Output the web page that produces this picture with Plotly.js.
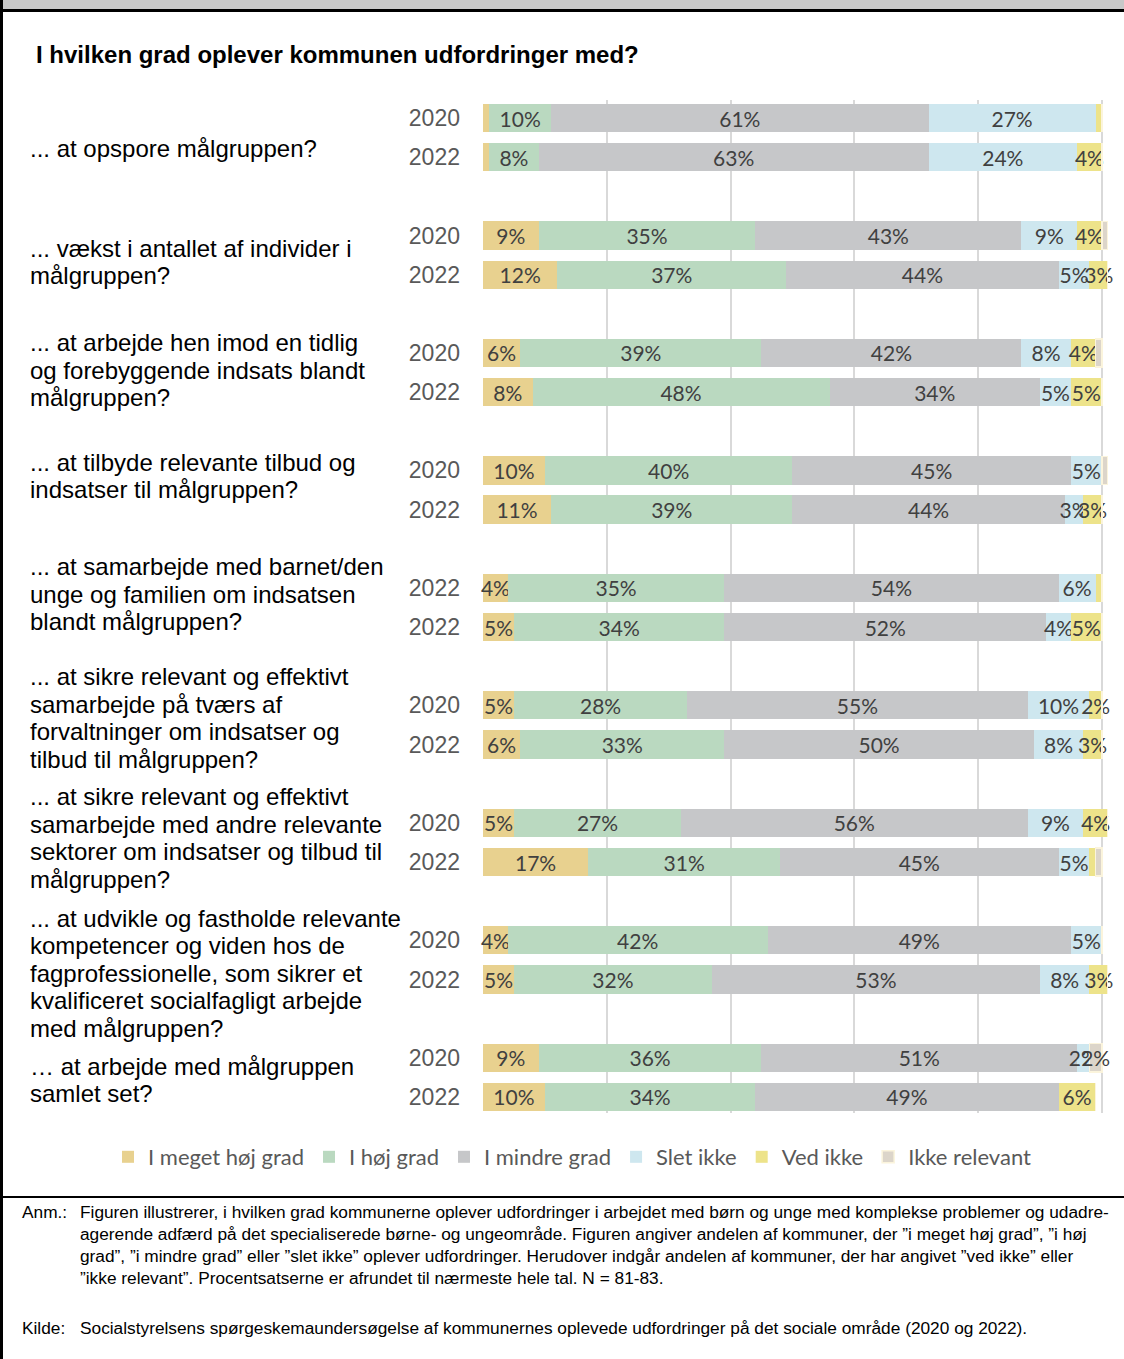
<!DOCTYPE html>
<html>
<head>
<meta charset="utf-8">
<script src="https://cdn.plot.ly/plotly-3.0.1.min.js"></script>
<style>
html,body{margin:0;padding:0;background:#fff;}
#chart{width:1124px;height:1359px;}
</style>
</head>
<body>
<div id="chart"></div>
<script>
// ---------- DATA ----------
const questions = [
  "... at opspore målgruppen?",
  "... vækst i antallet af individer i<br>målgruppen?",
  "... at arbejde hen imod en tidlig<br>og forebyggende indsats blandt<br>målgruppen?",
  "... at tilbyde relevante tilbud og<br>indsatser til målgruppen?",
  "... at samarbejde med barnet/den<br>unge og familien om indsatsen<br>blandt målgruppen?",
  "... at sikre relevant og effektivt<br>samarbejde på tværs af<br>forvaltninger om indsatser og<br>tilbud til målgruppen?",
  "... at sikre relevant og effektivt<br>samarbejde med andre relevante<br>sektorer om indsatser og tilbud til<br>målgruppen?",
  "... at udvikle og fastholde relevante<br>kompetencer og viden hos de<br>fagprofessionelle, som sikrer et<br>kvalificeret socialfagligt arbejde<br>med målgruppen?",
  "… at arbejde med målgruppen<br>samlet set?"
];
const yearLabels = ["2020","2022","2020","2022","2020","2022","2020","2022","2022","2022",
                    "2020","2022","2020","2022","2020","2022","2020","2022"];
const seriesNames = ["I meget høj grad","I høj grad","I mindre grad","Slet ikke","Ved ikke","Ikke relevant"];
const megetHoj    = [1,1, 9,12, 6,8, 10,11, 4,5, 5,6, 5,17, 4,5, 9,10];
const hoj         = [10,8, 35,37, 39,48, 40,39, 35,34, 28,33, 27,31, 42,32, 36,34];
const mindre      = [61,63, 43,44, 42,34, 45,44, 54,52, 55,50, 56,45, 49,53, 51,49];
const sletIkke    = [27,24, 9,5, 8,5, 5,3, 6,4, 10,8, 9,5, 5,8, 2,0];
const vedIkke     = [1,4, 4,3, 4,5, 0,3, 1,5, 2,3, 4,1, 0,3, 0,6];
const ikkeRelevant= [0,0, 1,0, 1,0, 1,0, 0,0, 0,0, 0,1, 0,0, 2,0];

const anmLines = [
  "Figuren illustrerer, i hvilken grad kommunerne oplever udfordringer i arbejdet med børn og unge med komplekse problemer og udadre-",
  "agerende adfærd på det specialiserede børne- og ungeområde. Figuren angiver andelen af kommuner, der ”i meget høj grad”, ”i høj",
  "grad”, ”i mindre grad” eller ”slet ikke” oplever udfordringer. Herudover indgår andelen af kommuner, der har angivet ”ved ikke” eller",
  "”ikke relevant”. Procentsatserne er afrundet til nærmeste hele tal. N = 81-83."
];
const kildeText = "Socialstyrelsens spørgeskemaundersøgelse af kommunernes oplevede udfordringer på det sociale område (2020 og 2022).";

// ---------- LAYOUT HELPERS ----------
const W = 1124, H = 1359, L = 483, R = 1108, T = 100, B = 1113;
const px = x => (x - L) / (R - L);
const py = y => (B - y) / (B - T);

const rows = [];
questions.forEach((q, g) => { rows.push(3 * g, 3 * g + 1); });

const colors = ["#E8D18F", "#BAD9C0", "#C6C7C9", "#CEE7EF", "#EDE38A", "#DCD5CA"];
const allSeries = [megetHoj, hoj, mindre, sletIkke, vedIkke, ikkeRelevant];

const labelFont = {family: "Lato, sans-serif", size: 21, color: "#404040"};
const traces = allSeries.map((vals, i) => ({
  type: "bar",
  orientation: "h",
  name: seriesNames[i],
  x: vals,
  y: rows,
  width: 0.72,
  text: vals.map(v => v >= 2 ? v + "%" : ""),
  textposition: "inside",
  insidetextanchor: "middle",
  textangle: 0,
  constraintext: "none",
  cliponaxis: false,
  textfont: labelFont,
  insidetextfont: labelFont,
  marker: {
    color: colors[i],
    line: i === 5 ? {color: "#FBF4DC", width: 1.5} : {width: 0}
  },
  hoverinfo: "skip"
}));

// question labels, one annotation per line (line pitch 27.5 px)
const qCenters = [148, 262, 370, 476, 594, 718, 838, 973, 1080];
const linePitch = 27.5;
const annotations = [];
questions.forEach((q, g) => {
  const lines = q.split("<br>");
  lines.forEach((ln, k) => {
    const yc = qCenters[g] + (k - (lines.length - 1) / 2) * linePitch;
    annotations.push({
      xref: "paper", yref: "paper",
      x: px(28), y: py(yc),
      xanchor: "left", yanchor: "middle", align: "left",
      text: ln, showarrow: false,
      font: {family: "Liberation Sans, Arial, sans-serif", size: 24, color: "#000"}
    });
  });
});

const noteFont = {family: "Liberation Sans, Arial, sans-serif", size: 17.3, color: "#000"};
annotations.push({xref: "paper", yref: "paper", x: px(20), y: py(1212), xanchor: "left", yanchor: "middle",
  text: "Anm.:", showarrow: false, font: noteFont});
anmLines.forEach((t, i) => annotations.push({xref: "paper", yref: "paper", x: px(78), y: py(1212 + 22 * i),
  xanchor: "left", yanchor: "middle", text: t, showarrow: false, font: noteFont}));
annotations.push({xref: "paper", yref: "paper", x: px(20), y: py(1328), xanchor: "left", yanchor: "middle",
  text: "Kilde:", showarrow: false, font: noteFont});
annotations.push({xref: "paper", yref: "paper", x: px(78), y: py(1328), xanchor: "left", yanchor: "middle",
  text: kildeText, showarrow: false, font: noteFont});

const shapes = [
  {type: "rect", xref: "paper", yref: "paper", x0: px(0), x1: px(W), y0: py(0), y1: py(9),
   fillcolor: "#C8C8C8", line: {width: 0}, layer: "above"},
  {type: "line", xref: "paper", yref: "paper", x0: px(0), x1: px(W), y0: py(10.5), y1: py(10.5),
   line: {color: "#000", width: 3}},
  {type: "line", xref: "paper", yref: "paper", x0: px(1.5), x1: px(1.5), y0: py(0), y1: py(H),
   line: {color: "#000", width: 3}},
  {type: "line", xref: "paper", yref: "paper", x0: px(0), x1: px(W), y0: py(1197), y1: py(1197),
   line: {color: "#000", width: 2}}
];

const layout = {
  width: W, height: H,
  margin: {l: L, r: W - R, t: T, b: H - B, pad: 0},
  paper_bgcolor: "#fff", plot_bgcolor: "#fff",
  barmode: "stack",
  bargap: 0,
  showlegend: true,
  font: {family: "Liberation Sans, Arial, sans-serif"},
  title: {
    text: "<b>I hvilken grad oplever kommunen udfordringer med?</b>",
    xref: "container", yref: "container",
    x: 36 / W, xanchor: "left", y: 1 - 55 / H, yanchor: "middle",
    font: {family: "Liberation Sans, Arial, sans-serif", size: 24, color: "#000"}
  },
  xaxis: {
    range: [0, 101], tickvals: [0, 20, 40, 60, 80, 100],
    showticklabels: false, showgrid: true, gridcolor: "#D9D9D9", gridwidth: 2,
    zeroline: false, showline: false, fixedrange: true
  },
  yaxis: {
    range: [25.41, -0.46], tickmode: "array", tickvals: rows, ticktext: yearLabels,
    showgrid: false, zeroline: false, showline: false, ticks: "",
    ticklabelstandoff: 22,
    tickfont: {family: "Liberation Sans, Arial, sans-serif", size: 23, color: "#595959"},
    fixedrange: true
  },
  legend: {
    orientation: "h", xref: "paper", yref: "paper",
    x: px(108), xanchor: "left", y: py(1157), yanchor: "middle",
    font: {family: "Lato, sans-serif", size: 22, color: "#595959"},
    traceorder: "normal", itemclick: false, itemdoubleclick: false,
    itemwidth: 30
  },
  annotations: annotations,
  shapes: shapes
};

Plotly.newPlot("chart", traces, layout, {displayModeBar: false, staticPlot: true});
</script>
</body>
</html>
